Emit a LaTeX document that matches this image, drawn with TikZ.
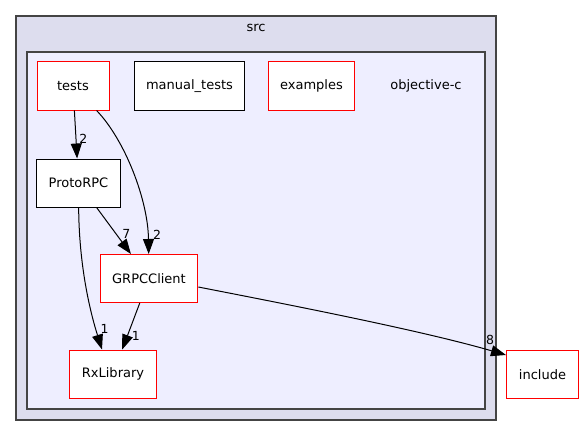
\documentclass[tikz,border=0pt]{standalone}
\usepackage{fontspec}
\setmainfont{DejaVu Sans}
\usetikzlibrary{arrows.meta}
\definecolor{srcfill}{HTML}{DDDDEE}
\definecolor{objcfill}{HTML}{EEEEFF}
\definecolor{frame}{HTML}{444444}
\tikzset{
  dirbox/.style={draw=black, fill=white, minimum width=72pt, minimum height=48pt, inner xsep=12pt, font=\fontsize{13}{15}\selectfont},
  redbox/.style={dirbox, draw=red},
  cnt/.style={font=\fontsize{12.5}{14}\selectfont, inner sep=1pt}
}

\begin{document}
\begin{tikzpicture}[x=1pt, y=-1pt, line width=1pt, >={Triangle[length=15pt,width=11pt]}]
    \useasboundingbox (0,0) rectangle (584,436);
    \draw [frame, fill=srcfill, line width=1.4pt] (16,16) rectangle (496,420);
    \draw [frame, fill=objcfill, line width=1.4pt] (27,52) rectangle (485,409);
    \node (src) at (256,28) {\fontsize{13}{15}\selectfont src};
    \node (objc) at (426,86) {\fontsize{13}{15}\selectfont objective-c};

    \node (tests) [redbox] at (73,86) {tests};
    \node (manual) [dirbox] at (189.5,86) {manual\_tests};
    \node (examples) [redbox] at (311.5,86) {examples};
    \node (ProtoRPC) [dirbox] at (78.5,183) {ProtoRPC};
    \node (GRPCClient) [redbox] at (149,278.5) {GRPCClient};
    \node (RxLibrary) [redbox] at (113,374) {RxLibrary};
    \node (include) [redbox] at (542.5,374.5) {include};

    \draw [->] (tests) -- (ProtoRPC) node [cnt, pos=0.59, right=2pt] {2};
    \draw [->] (tests) .. controls (125,140) and (148,200) .. (GRPCClient) node [cnt, pos=0.88, right=4pt] {2};
    \draw [->] (ProtoRPC) -- (GRPCClient) node [cnt, pos=0.56, right=5pt] {7};
    \draw [->] (ProtoRPC) .. controls (79,260) and (88,305) .. ([xshift=-11pt]RxLibrary.north) node [cnt, pos=0.85, right=3pt] {1};
    \draw [->] (GRPCClient) -- (RxLibrary) node [cnt, pos=0.705, right=3pt] {1};
    \draw [->] ([yshift=-8.5pt]GRPCClient.east) .. controls (280,303) and (420,330) .. ([yshift=-5pt]include.north west) node [cnt, pos=1, xshift=-16pt, yshift=15pt] {8};
\end{tikzpicture}
\end{document}
